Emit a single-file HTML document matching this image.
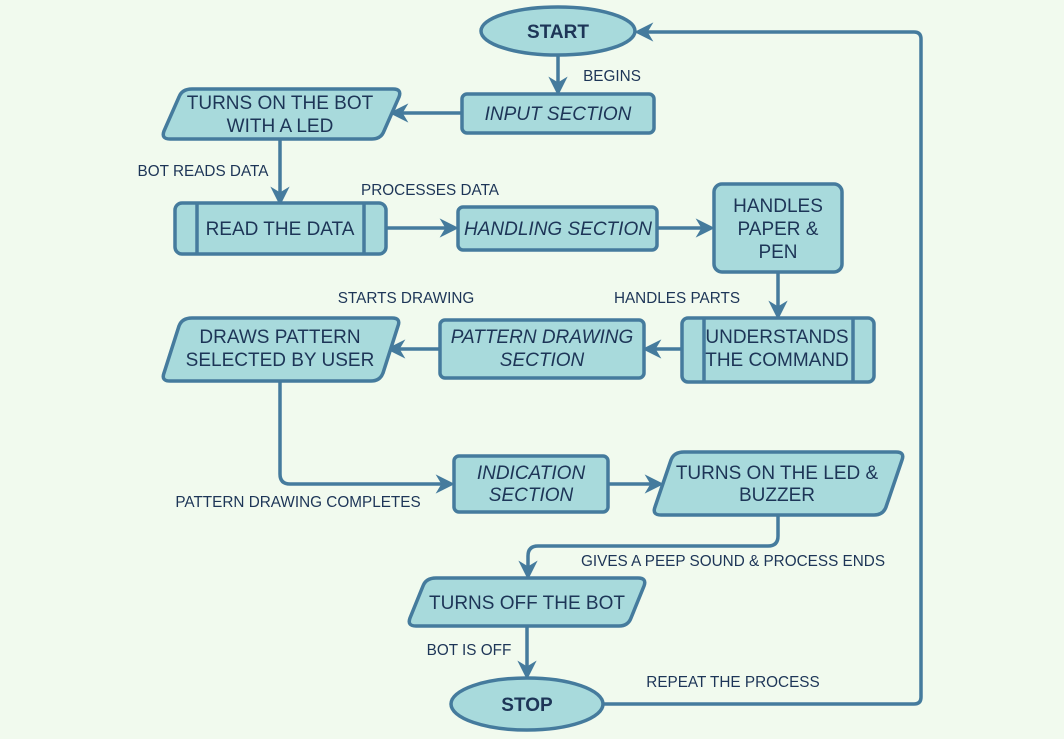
<!DOCTYPE html>
<html><head><meta charset="utf-8"><style>
html,body{margin:0;padding:0;background:#f1faee;}
svg{display:block;}
text{font-family:"Liberation Sans",Arial,sans-serif;fill:#1d3557;}
.n{font-size:19px;text-anchor:middle;}
.i{font-size:19px;text-anchor:middle;font-style:italic;}
.l{font-size:15.3px;text-anchor:middle;}
.s{fill:#a8dadc;stroke:#457b9d;stroke-width:3.5;}
.c{fill:none;stroke:#457b9d;stroke-width:3.5;}
</style></head><body>
<svg width="1064" height="739" viewBox="0 0 1064 739">
<defs><marker id="a" viewBox="0 0 10 10" refX="8" refY="5" markerWidth="5.5" markerHeight="5.5" orient="auto"><path d="M0,0 L10,5 L0,10 L3,5 z" fill="#457b9d"/></marker></defs>

<path class="c" d="M558,55 V92" marker-end="url(#a)"/>
<path class="c" d="M462,113 H393" marker-end="url(#a)"/>
<path class="c" d="M280,139 V202" marker-end="url(#a)"/>
<path class="c" d="M386,228 H455" marker-end="url(#a)"/>
<path class="c" d="M657,228 H711" marker-end="url(#a)"/>
<path class="c" d="M778,272 V316" marker-end="url(#a)"/>
<path class="c" d="M682,349 H646" marker-end="url(#a)"/>
<path class="c" d="M440,349 H390" marker-end="url(#a)"/>
<path class="c" d="M280,381 V474 Q280,484 290,484 H451" marker-end="url(#a)"/>
<path class="c" d="M608,484 H660" marker-end="url(#a)"/>
<path class="c" d="M778,515 V536 Q778,546 768,546 H538 Q528,546 528,556 V576" marker-end="url(#a)"/>
<path class="c" d="M527,626 V676" marker-end="url(#a)"/>
<path class="c" d="M603,704 H914 Q921,704 921,697 V39 Q921,32 914,32 H638" marker-end="url(#a)"/>

<ellipse class="s" cx="558" cy="31" rx="77" ry="24"/>
<text class="n" x="558" y="38" style="font-weight:bold">START</text>

<rect class="s" x="462" y="94" width="192" height="39" rx="5"/>
<text class="i" x="558" y="120">INPUT SECTION</text>

<path class="s" d="M192,89 H393 Q402,89 399,97 L384,131 Q381,139 372,139 H170 Q161,139 164,131 L179,97 Q182,89 192,89 z"/>
<text class="n" x="280" y="109">TURNS ON THE BOT</text>
<text class="n" x="280" y="132">WITH A LED</text>

<rect class="s" x="175" y="203" width="211" height="51" rx="7"/>
<path class="c" d="M197,203 V254 M364,203 V254"/>
<text class="n" x="280" y="235">READ THE DATA</text>

<rect class="s" x="458" y="207" width="199" height="43" rx="5"/>
<text class="i" x="558" y="235">HANDLING SECTION</text>

<rect class="s" x="714" y="184" width="128" height="88" rx="8"/>
<text class="n" x="778" y="212">HANDLES</text>
<text class="n" x="778" y="235">PAPER &amp;</text>
<text class="n" x="778" y="258">PEN</text>

<rect class="s" x="682" y="318" width="192" height="64" rx="6"/>
<path class="c" d="M704,318 V382 M853,318 V382"/>
<text class="n" x="777" y="343">UNDERSTANDS</text>
<text class="n" x="777" y="366">THE COMMAND</text>

<rect class="s" x="440" y="320" width="204" height="58" rx="5"/>
<text class="i" x="542" y="343">PATTERN DRAWING</text>
<text class="i" x="542" y="366">SECTION</text>

<path class="s" d="M192,318 H392 Q401,318 398,326 L383,373 Q380,381 371,381 H170 Q161,381 164,373 L179,326 Q182,318 192,318 z"/>
<text class="n" x="280" y="343">DRAWS PATTERN</text>
<text class="n" x="280" y="366">SELECTED BY USER</text>

<rect class="s" x="454" y="456" width="154" height="56" rx="5"/>
<text class="i" x="531" y="479">INDICATION</text>
<text class="i" x="531" y="501">SECTION</text>

<path class="s" d="M684,452 H896 Q905,452 902,460 L886,507 Q883,515 874,515 H661 Q652,515 655,507 L671,460 Q674,452 684,452 z"/>
<text class="n" x="777" y="479">TURNS ON THE LED &amp;</text>
<text class="n" x="777" y="501">BUZZER</text>

<path class="s" d="M436,578 H638 Q647,578 644,586 L631,618 Q628,626 619,626 H416 Q407,626 410,618 L423,586 Q426,578 436,578 z"/>
<text class="n" x="527" y="609">TURNS OFF THE BOT</text>

<ellipse class="s" cx="527" cy="704" rx="76" ry="26"/>
<text class="n" x="527" y="711" style="font-weight:bold">STOP</text>

<text class="l" x="612" y="81">BEGINS</text>
<text class="l" x="203" y="176">BOT READS DATA</text>
<text class="l" x="430" y="195">PROCESSES DATA</text>
<text class="l" x="406" y="303">STARTS DRAWING</text>
<text class="l" x="677" y="303">HANDLES PARTS</text>
<text class="l" x="298" y="507">PATTERN DRAWING COMPLETES</text>
<text class="l" x="733" y="566">GIVES A PEEP SOUND &amp; PROCESS ENDS</text>
<text class="l" x="469" y="655">BOT IS OFF</text>
<text class="l" x="733" y="687">REPEAT THE PROCESS</text>
</svg>
</body></html>
